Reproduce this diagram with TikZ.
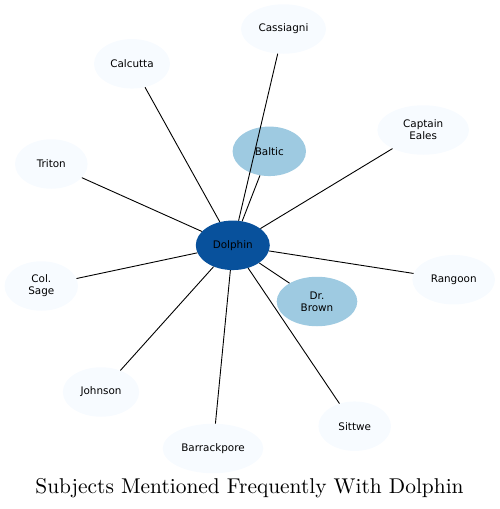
\documentclass[tikz,border=0pt]{standalone}
\usepackage{fontspec}
\newfontfamily\dejavu{DejaVu Sans}
\newfontfamily\titlefont{lmroman10-regular}[Extension=.otf]
\usetikzlibrary{shapes.geometric}
\definecolor{hub}{HTML}{08519C}
\definecolor{midblue}{HTML}{9ECAE1}
\definecolor{pale}{HTML}{F7FBFF}
\tikzset{
  bubble/.style={ellipse, inner sep=0pt, minimum height=49.5pt, align=center,
    font=\dejavu\fontsize{10.4}{12}\selectfont, text=black},
  paleb/.style={bubble, fill=pale},
  midb/.style={bubble, fill=midblue},
  hubb/.style={bubble, fill=hub},
  link/.style={draw=black, line width=0.9pt}
}
\begin{document}
\begin{tikzpicture}[x=1pt,y=-1pt]
\useasboundingbox (0,0) rectangle (499,509);
\node[hubb, minimum width=74pt] (dolphin) at (232.8,245.3) {Dolphin};
\node[midb, minimum width=73.4pt] (baltic) at (269.3,151.3) {Baltic};
\node[midb, minimum width=80.6pt] (brown) at (317,301.5) {Dr.\\Brown};
\node[paleb, minimum width=85pt] (cassiagni) at (283.5,29) {Cassiagni};
\node[paleb, minimum width=76pt] (calcutta) at (132,63.8) {Calcutta};
\node[paleb, minimum width=91.6pt] (eales) at (423.2,130) {Captain\\Eales};
\node[paleb, minimum width=72.6pt] (triton) at (51.3,164) {Triton};
\node[paleb, minimum width=73.4pt] (sage) at (41.3,286) {Col.\\Sage};
\node[paleb, minimum width=82.6pt] (rangoon) at (453.7,279.7) {Rangoon};
\node[paleb, minimum width=76.3pt] (johnson) at (101,392) {Johnson};
\node[paleb, minimum width=72.6pt] (sittwe) at (354.7,426.2) {Sittwe};
\node[paleb, minimum width=100.6pt] (barrackpore) at (213,448.5) {Barrackpore};
\foreach \t in {baltic,brown,cassiagni,calcutta,eales,triton,sage,rangoon,johnson,sittwe,barrackpore}
  \draw[link] (dolphin) -- (\t);
\node[font=\titlefont\fontsize{21.4}{25}\selectfont, anchor=base] (title) at (249.5,493) {Subjects Mentioned Frequently With Dolphin};
\end{tikzpicture}
\end{document}
